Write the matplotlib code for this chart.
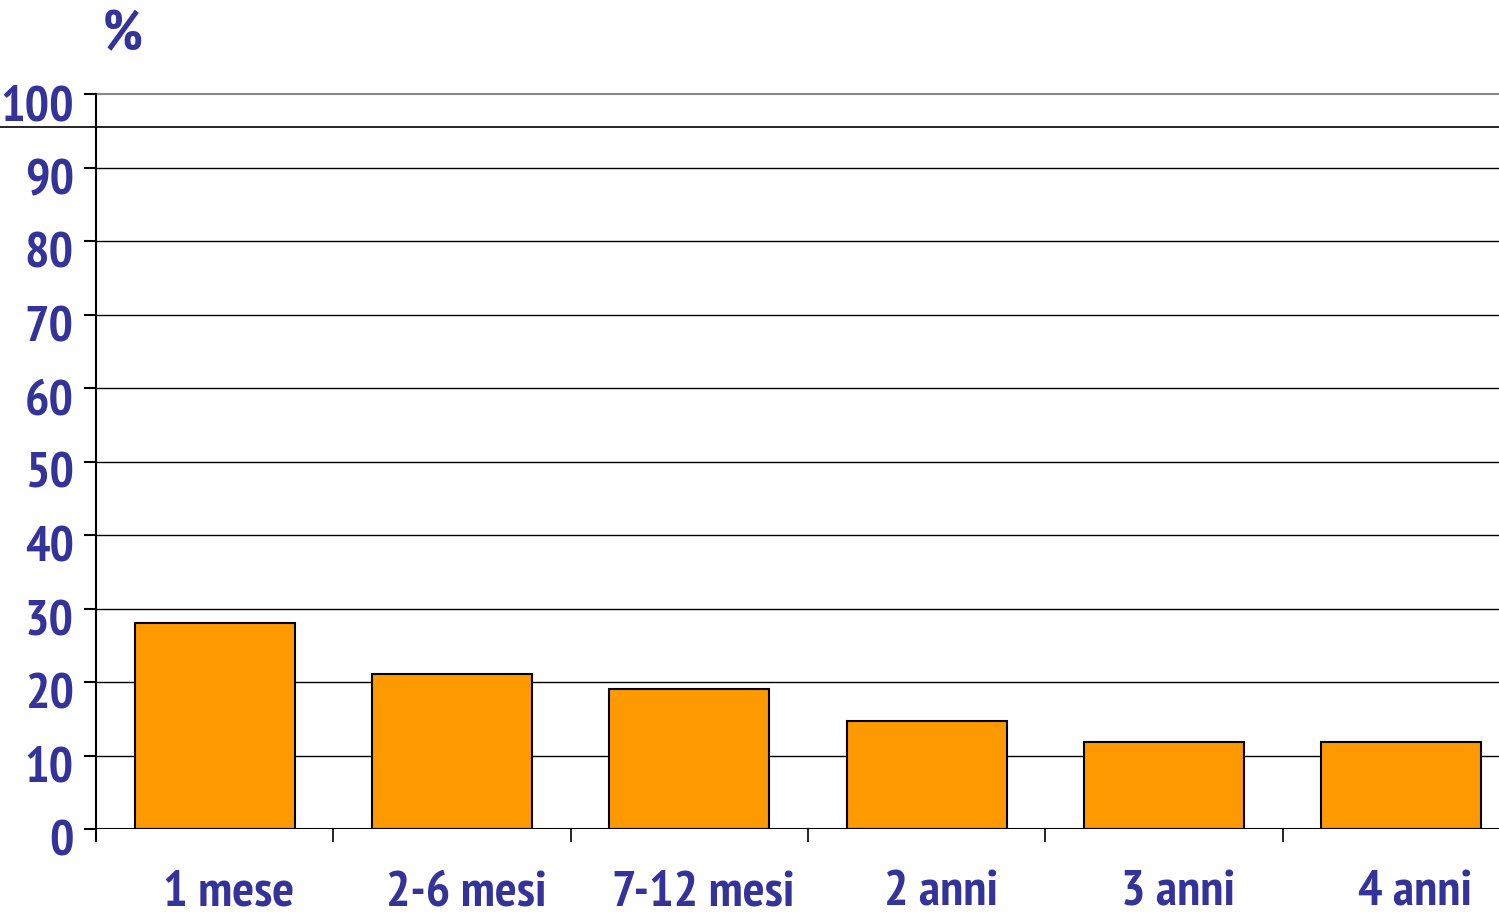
import matplotlib
matplotlib.use("Agg")
from matplotlib import pyplot as plt
from matplotlib import transforms
import numpy as np

categories = ['1 mese', '2-6 mesi', '7-12 mesi', '2 anni', '3 anni', '4 anni']
values = [28, 21.1, 19, 14.7, 11.9, 11.9]
yticks = [0, 10, 20, 30, 40, 50, 60, 70, 80, 90, 100]

txtcolor = '#333399'
barcolor = '#FF9900'
plt.rcParams['font.family'] = ['PT Sans Narrow', 'DejaVu Sans']

fig = plt.figure(figsize=(14.99, 9.16), dpi=100)
ax = fig.add_axes([96/1499, 87/916, (1520-96)/1499, (829-94)/916])

x = np.arange(len(categories))
ax.bar(x, values, width=0.675, color=barcolor, edgecolor='black', linewidth=1.5, zorder=3)

ax.set_xlim(-0.5, len(categories) - 0.5)
ax.set_ylim(0, 100)

# gridlines
for v in yticks[1:-1]:
    ax.axhline(v, color='black', linewidth=1.0, zorder=1)
ax.axhline(100, color='#888888', linewidth=1.5, zorder=1, clip_on=False)
ax.axhline(0, color='black', linewidth=1.5, zorder=4)
# stray line left over in the original slide
ax.axhline(95.5, xmin=-96/1424, xmax=1, color='black', linewidth=1.2, clip_on=False, zorder=1)

for s in ['top', 'right', 'bottom']:
    ax.spines[s].set_visible(False)
ax.spines['left'].set_linewidth(1.5)
ax.spines['left'].set_bounds(-1.7, 100)

ax.set_yticks(yticks)
ax.set_yticklabels([str(v) for v in yticks])
ax.tick_params(axis='y', length=9, width=1.5, direction='out', pad=7,
               labelsize=37, labelcolor=txtcolor)
for lab in ax.get_yticklabels():
    lab.set_fontweight('bold')
    lab.set_transform(lab.get_transform() + transforms.ScaledTranslation(0, -9/100, fig.dpi_scale_trans))

ax.set_xticks(x)
ax.set_xticklabels(categories)
ax.set_xticks(np.arange(len(categories) + 1) - 0.5, minor=True)
ax.tick_params(axis='x', which='major', length=0, pad=30, labelsize=37, labelcolor=txtcolor)
ax.tick_params(axis='x', which='minor', length=9, width=1.2, direction='out')
for lab in ax.get_xticklabels():
    lab.set_fontweight('bold')
    lab.set_transform(lab.get_transform() + transforms.ScaledTranslation(14/100, 0, fig.dpi_scale_trans))

fig.text(123/1499, 1 - 36/916, '%', ha='center', va='center', fontsize=40,
         fontweight='bold', color=txtcolor)

fig.savefig('out.png', dpi=100)
